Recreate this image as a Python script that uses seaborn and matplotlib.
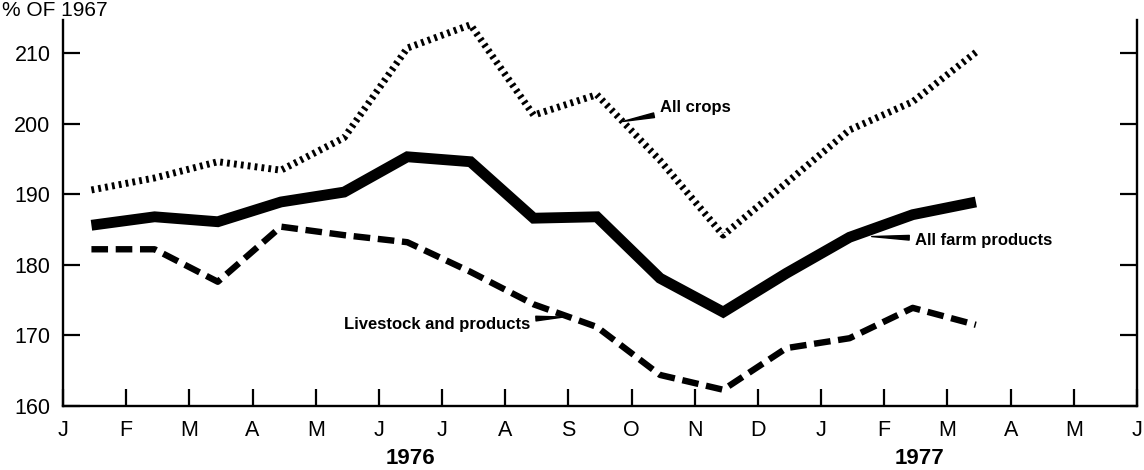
import numpy as np
import pandas as pd
import matplotlib
matplotlib.use("Agg")
import matplotlib.pyplot as plt
import seaborn as sns

# ---- data (monthly index, % of 1967), Jan 1976 .. Mar 1977 ----
data_months = ["Jan76", "Feb76", "Mar76", "Apr76", "May76", "Jun76", "Jul76", "Aug76",
               "Sep76", "Oct76", "Nov76", "Dec76", "Jan77", "Feb77", "Mar77"]
all_farm = [185.6, 186.8, 186.1, 188.9, 190.3, 195.3, 194.6, 186.6,
            186.8, 178.1, 173.3, 178.8, 183.9, 187.1, 188.9]
all_crops = [190.6, 192.3, 194.6, 193.4, 198.0, 210.7, 214.0, 201.2,
             204.1, 194.8, 184.2, 191.6, 199.1, 203.1, 210.1]
livestock = [182.2, 182.2, 177.6, 185.4, 184.2, 183.2, 179.0, 174.4,
             171.2, 164.4, 162.3, 168.2, 169.6, 173.9, 171.5]

tick_labels = ["J", "F", "M", "A", "M", "J", "J", "A", "S", "O", "N", "D",
               "J", "F", "M", "A", "M", "J"]
y_ticks = [160, 170, 180, 190, 200, 210]
year_labels = ["1976", "1977"]

sns.set_theme(style="white")
plt.rcParams["font.family"] = ["Liberation Sans", "DejaVu Sans"]
plt.rcParams["text.color"] = "black"
plt.rcParams["axes.labelcolor"] = "black"
plt.rcParams["xtick.color"] = "black"
plt.rcParams["ytick.color"] = "black"

fig = plt.figure(figsize=(11.44, 4.70), dpi=100)
top_px = 20
ax = fig.add_axes([63 / 1144, 1 - 406 / 470, (1137 - 63) / 1144, (406 - top_px) / 470])

x_pos = np.arange(len(data_months)) + 0.45
df = pd.DataFrame({"x": x_pos, "farm": all_farm, "crops": all_crops, "live": livestock})

sns.lineplot(data=df, x="x", y="crops", ax=ax, color="black", linewidth=5.0,
             linestyle=(0, (0.4, 0.6)))
sns.lineplot(data=df, x="x", y="live", ax=ax, color="black", linewidth=4.6,
             linestyle=(0, (2.6, 1.2)))
sns.lineplot(data=df, x="x", y="farm", ax=ax, color="black", linewidth=7.8,
             solid_joinstyle="miter", solid_capstyle="butt")
for ln in ax.lines[:2]:
    ln.set_dash_capstyle("butt")

ax.set_xlim(0, len(tick_labels) - 1)
ax.set_ylim(160, 160 + (406 - top_px) / 7.06)
ax.set_xticks(np.arange(len(tick_labels)))
ax.set_xticklabels(tick_labels)
ax.set_yticks(y_ticks)
ax.set_yticklabels([str(v) for v in y_ticks])
ax.set_xlabel("")
ax.set_ylabel("")

for side in ["left", "right", "bottom"]:
    ax.spines[side].set_visible(True)
    ax.spines[side].set_color("black")
    ax.spines[side].set_linewidth(1.7)
ax.spines["top"].set_visible(False)

ax.tick_params(axis="both", which="major", direction="in", length=12, width=1.6,
               color="black", labelcolor="black", labelsize=15.5)
ax.tick_params(axis="y", left=True, right=True, labelright=False, pad=9)
ax.tick_params(axis="x", bottom=True, top=False, pad=10)

# year labels
ax.text(5.5, -0.135, year_labels[0], transform=ax.get_xaxis_transform(),
        ha="center", va="center", fontsize=16, fontweight="bold", color="black")
ax.text(13.55, -0.135, year_labels[1], transform=ax.get_xaxis_transform(),
        ha="center", va="center", fontsize=16, fontweight="bold", color="black")

# unit label at top-left
fig.text(0.002, 1 - 16 / 470, "% OF 1967", ha="left", va="baseline",
         fontsize=15, color="black")

arrow = dict(arrowstyle="wedge,tail_width=0.28", color="black", shrinkA=2, shrinkB=0)
ax.annotate("All crops", xy=(8.86, 200.3), xytext=(9.45, 202.35),
            ha="left", va="center", fontsize=12, fontweight="bold", color="black",
            arrowprops=arrow)
ax.annotate("All farm products", xy=(12.8, 184.0), xytext=(13.49, 183.5),
            ha="left", va="center", fontsize=12, fontweight="bold", color="black",
            arrowprops=arrow)
ax.annotate("Livestock and products", xy=(7.92, 172.6), xytext=(7.39, 171.6),
            ha="right", va="center", fontsize=12, fontweight="bold", color="black",
            arrowprops=arrow)

fig.savefig("out.png", dpi=100, facecolor="white")
